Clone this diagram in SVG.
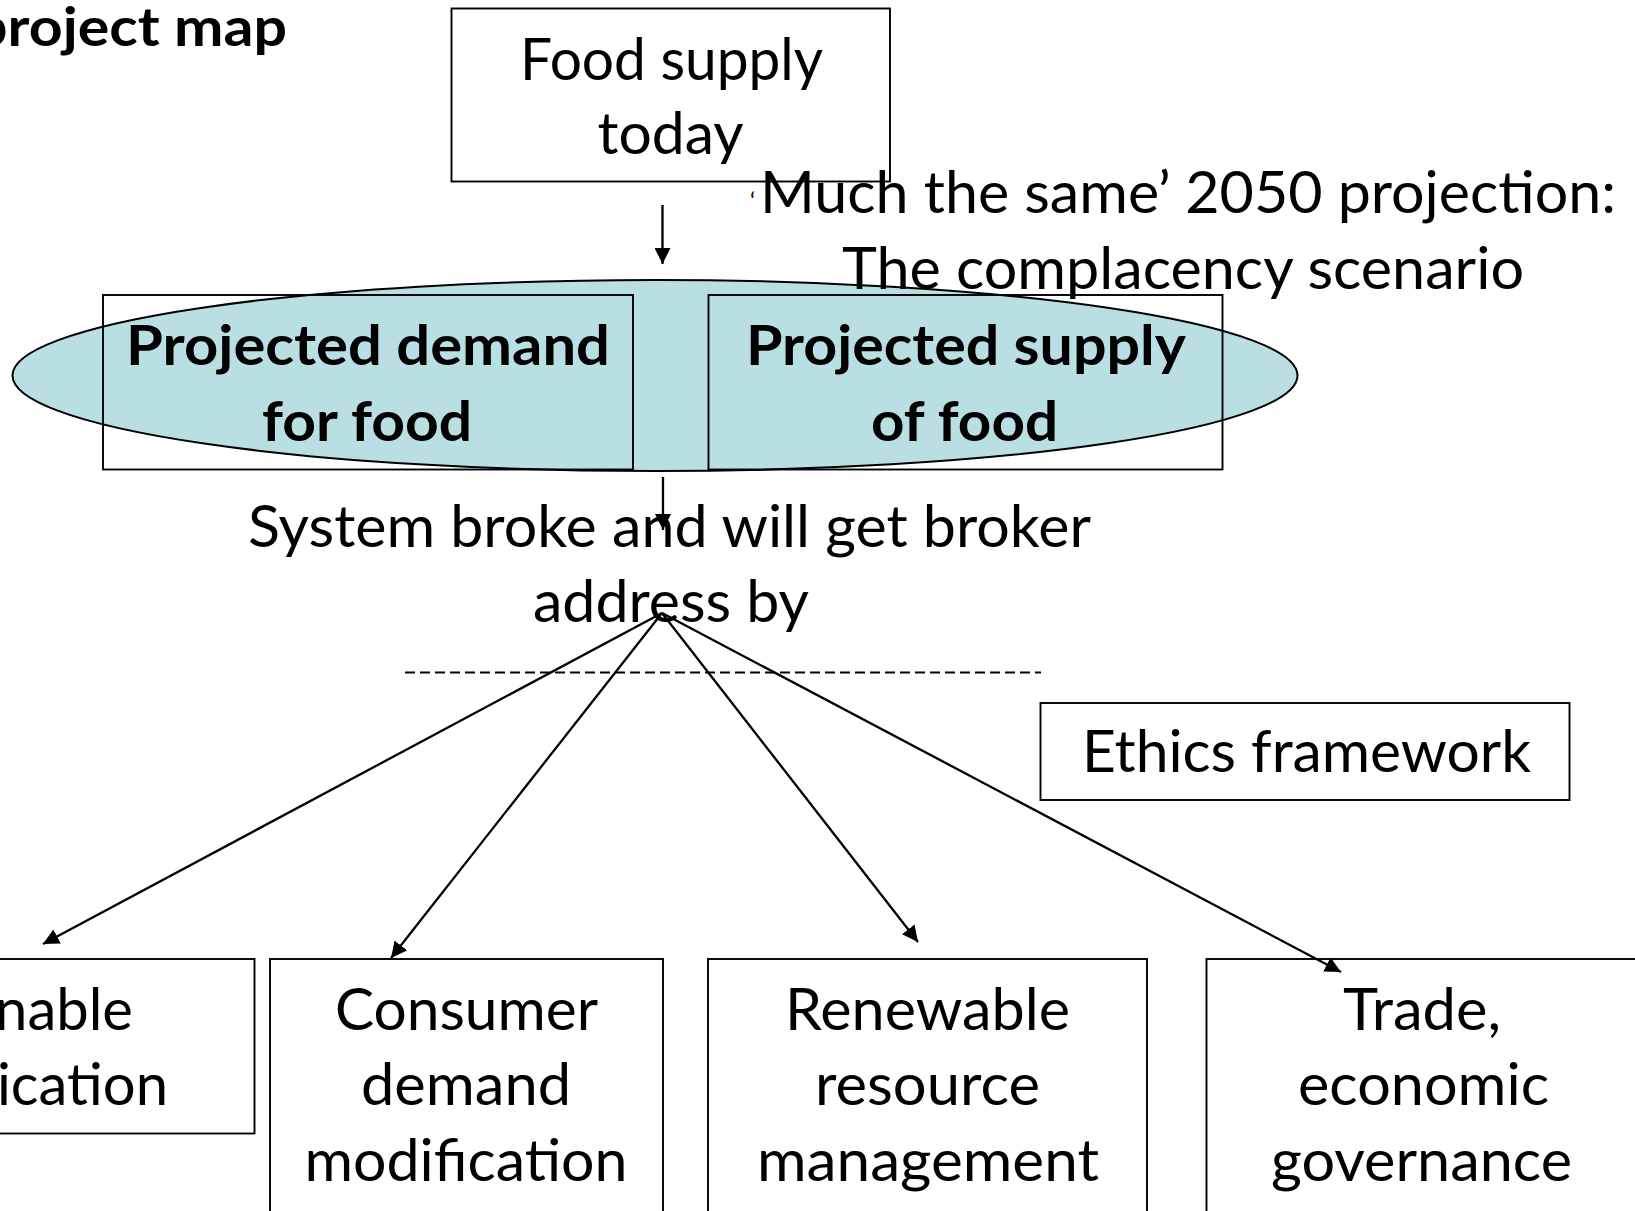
<svg xmlns="http://www.w3.org/2000/svg" width="1635" height="1211" viewBox="0 0 1635 1211">
<style>
  .box { fill: none; stroke: #000; stroke-width: 1.9; }
  .t { font-family: Lato, "Liberation Sans", sans-serif; font-size: 58px; fill: #000; }
  .b { font-family: Lato, "Liberation Sans", sans-serif; font-size: 56px; font-weight: bold; fill: #000; }
  .conn { stroke: #000; stroke-width: 2.3; fill: none; marker-end: url(#arr); }
</style>
<defs>
  <marker id="arr" viewBox="0 0 16 16" refX="16" refY="8" markerWidth="16" markerHeight="16" markerUnits="userSpaceOnUse" orient="auto">
    <path d="M0,0 L16,8 L0,16 Z" fill="#000"/>
  </marker>
</defs>
<rect width="1635" height="1211" fill="#fff"/>

<g id="title">
  <text class="b" x="-26" y="46" style="font-size:53px" textLength="313" lengthAdjust="spacingAndGlyphs">project map</text>
</g>

<g id="scenario">
  <ellipse cx="655" cy="375.5" rx="642.5" ry="95.5" fill="#b9dfe3" stroke="#000" stroke-width="2"/>
</g>

<g id="food-supply-today">
  <rect class="box" x="451.5" y="8.5" width="438.5" height="173"/>
  <text class="t" x="520" y="80" style="font-size:58px" textLength="303" lengthAdjust="spacingAndGlyphs">Food supply</text>
  <text class="t" x="597.5" y="154" style="font-size:58px" textLength="146" lengthAdjust="spacingAndGlyphs">today</text>
</g>

<g id="complacency-label">
  <text class="t" x="750" y="209" style="font-size:24px">‘</text>
  <text class="t" x="760" y="213" textLength="856" lengthAdjust="spacingAndGlyphs">Much the same’ 2050 projection:</text>
  <text class="t" x="842" y="289" textLength="682" lengthAdjust="spacingAndGlyphs">The complacency scenario</text>
</g>

<g id="projected-demand">
  <rect class="box" x="103" y="295" width="530" height="174.5"/>
  <text class="b" x="126" y="365" textLength="484" lengthAdjust="spacingAndGlyphs">Projected demand</text>
  <text class="b" x="262" y="441" textLength="210" lengthAdjust="spacingAndGlyphs">for food</text>
</g>

<g id="projected-supply">
  <rect class="box" x="708.5" y="295" width="514" height="174.5"/>
  <text class="b" x="746" y="365" textLength="440" lengthAdjust="spacingAndGlyphs">Projected supply</text>
  <text class="b" x="871" y="441" textLength="187" lengthAdjust="spacingAndGlyphs">of food</text>
</g>

<g id="connectors">
  <line class="conn" x1="662.5" y1="205" x2="662.5" y2="264"/>
  <line class="conn" x1="663" y1="477" x2="663" y2="530" stroke-width="1.8"/>
  <line class="conn" x1="662" y1="613" x2="43" y2="944"/>
  <line class="conn" x1="662" y1="613" x2="391" y2="958"/>
  <line class="conn" x1="662" y1="613" x2="918" y2="942"/>
  <line class="conn" x1="662" y1="613" x2="1341" y2="972"/>
  <line x1="405" y1="672.5" x2="1041" y2="672.5" stroke="#000" stroke-width="1.8" stroke-dasharray="10 5"/>
</g>

<g id="system-broke">
  <text class="t" x="248" y="547" textLength="843" lengthAdjust="spacingAndGlyphs">System broke and will get broker</text>
  <text class="t" x="533" y="622" textLength="276" lengthAdjust="spacingAndGlyphs">address by</text>
</g>

<g id="ethics-framework">
  <rect class="box" x="1040.5" y="703" width="529" height="97"/>
  <text class="t" x="1082" y="772" textLength="449" lengthAdjust="spacingAndGlyphs">Ethics framework</text>
</g>

<g id="sustainable-intensification">
  <rect class="box" x="-200" y="959" width="454.5" height="174.5"/>
  <text class="t" x="133" y="1030" text-anchor="end">nable</text>
  <text class="t" x="168" y="1105" text-anchor="end">ication</text>
</g>

<g id="consumer-demand">
  <rect class="box" x="270" y="959" width="393" height="260"/>
  <text class="t" x="335" y="1030" textLength="263" lengthAdjust="spacingAndGlyphs">Consumer</text>
  <text class="t" x="361" y="1105" textLength="210" lengthAdjust="spacingAndGlyphs">demand</text>
  <text class="t" x="304.5" y="1181" textLength="323" lengthAdjust="spacingAndGlyphs">modification</text>
</g>

<g id="renewable-resource">
  <rect class="box" x="708" y="959" width="439" height="260"/>
  <text class="t" x="785" y="1030" textLength="285" lengthAdjust="spacingAndGlyphs">Renewable</text>
  <text class="t" x="815" y="1105" textLength="225" lengthAdjust="spacingAndGlyphs">resource</text>
  <text class="t" x="757" y="1181" textLength="342" lengthAdjust="spacingAndGlyphs">management</text>
</g>

<g id="trade-governance">
  <rect class="box" x="1206.5" y="959" width="432" height="260"/>
  <text class="t" x="1343" y="1030" textLength="158" lengthAdjust="spacingAndGlyphs">Trade,</text>
  <text class="t" x="1298" y="1105" textLength="251" lengthAdjust="spacingAndGlyphs">economic</text>
  <text class="t" x="1271" y="1181" textLength="301" lengthAdjust="spacingAndGlyphs">governance</text>
</g>
</svg>
